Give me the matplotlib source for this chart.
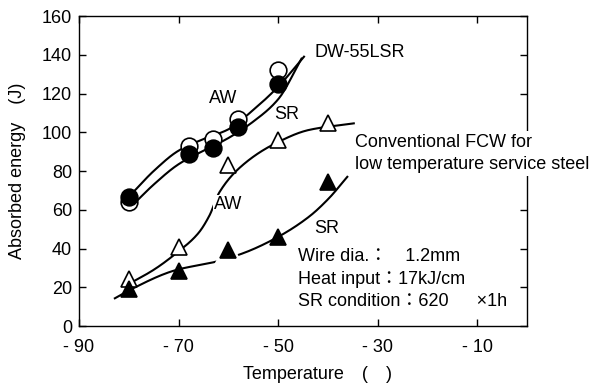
import numpy as np
import matplotlib
matplotlib.use('Agg')
from matplotlib import pyplot as plt

plt.rcParams['font.family'] = ['Liberation Sans', 'Noto Sans CJK JP', 'DejaVu Sans']
plt.rcParams['font.size'] = 13

# DW-55LSR, as welded (open circles) and SR (filled circles)
dw_temp = [-80, -68, -63, -58, -50]
dw_aw = [64, 93, 96.5, 107, 132]
dw_sr = [66.5, 89, 92, 102.5, 125]

# Conventional FCW, as welded (open triangles) and SR (filled triangles)
fcw_temp = [-80, -70, -60, -50, -40]
fcw_aw = [24.5, 41, 83, 96, 105]
fcw_sr = [19, 28.5, 39, 46, 74.5]

# hand drawn trend curves
dw_aw_curve_t = [-79.5, -75, -70, -65, -60, -55, -50, -44.8]
dw_aw_curve_e = [68, 80, 90.5, 96.5, 101.5, 111.5, 123.5, 139]
dw_sr_curve_t = [-79, -75, -70, -65, -60, -55, -50, -45.3]
dw_sr_curve_e = [63, 73, 83.5, 90.5, 97, 105.5, 117, 138]
fcw_aw_curve_t = [-79.8, -75, -70.5, -66, -63.8, -61.8, -57.1, -50.5, -43.8, -34.8]
fcw_aw_curve_e = [22, 29, 37.5, 48, 57, 69, 83.1, 94.3, 101.2, 104.6]
fcw_sr_curve_t = [-82.8, -79.8, -70.5, -62.5, -57.1, -50.5, -43.8, -39.8, -36.1]
fcw_sr_curve_e = [14.3, 18.6, 28.9, 33.2, 37.5, 45.3, 56.4, 65.9, 77]

x_ticks = [-90, -70, -50, -30, -10]
x_labels = ['- 90', '- 70', '- 50', '- 30', '- 10']
y_ticks = [0, 20, 40, 60, 80, 100, 120, 140, 160]

fig = plt.figure(figsize=(5.91, 3.83), dpi=100)
ax = fig.add_axes([0.1337, 0.1488, 0.758, 0.8094])

lw = 1.5


# monotone cubic (Fritsch-Carlson) through the read-off curve points
def smooth(ts, es, n=30):
    x = np.asarray(ts, float)
    y = np.asarray(es, float)
    h = np.diff(x)
    d = np.diff(y) / h
    m = np.zeros_like(y)
    m[0], m[-1] = d[0], d[-1]
    for k in range(1, len(x) - 1):
        if d[k - 1] * d[k] > 0:
            w1 = 2 * h[k] + h[k - 1]
            w2 = h[k] + 2 * h[k - 1]
            m[k] = (w1 + w2) / (w1 / d[k - 1] + w2 / d[k])
    xs, ys = [], []
    for k in range(len(x) - 1):
        s = np.linspace(0, 1, n)
        h00 = 2 * s**3 - 3 * s**2 + 1
        h10 = s**3 - 2 * s**2 + s
        h01 = -2 * s**3 + 3 * s**2
        h11 = s**3 - s**2
        xs.append(x[k] + s * h[k])
        ys.append(h00 * y[k] + h10 * h[k] * m[k] + h01 * y[k + 1] + h11 * h[k] * m[k + 1])
    return np.concatenate(xs), np.concatenate(ys)


for ts, es in [(dw_aw_curve_t, dw_aw_curve_e),
               (dw_sr_curve_t, dw_sr_curve_e),
               (fcw_aw_curve_t, fcw_aw_curve_e),
               (fcw_sr_curve_t, fcw_sr_curve_e)]:
    tt, ee = smooth(ts, es)
    ax.plot(tt, ee, color='k', lw=lw, zorder=2)

ms = 12
ax.plot(dw_temp, dw_aw, 'o', ms=ms, mfc='white', mec='k', mew=1.2, zorder=3)
ax.plot(dw_temp, dw_sr, 'o', ms=ms, mfc='k', mec='k', mew=1.2, zorder=4)
ax.plot(fcw_temp, fcw_aw, '^', ms=11, mfc='white', mec='k', mew=1.2, zorder=3)
# white halo behind the -60 SR point breaks the curve there
ax.plot(fcw_temp[2], fcw_sr[2], '^', ms=19, color='white', zorder=3.5)
ax.plot(fcw_temp, fcw_sr, '^', ms=11, mfc='k', mec='k', mew=1.2, zorder=4)

white = dict(facecolor='white', edgecolor='none', pad=1)
ax.text(-61, 117.5, 'AW', ha='center', va='center', zorder=5)
ax.text(-48.2, 109, 'SR', ha='center', va='center', zorder=5)
ax.text(-42.6, 141, 'DW-55LSR', ha='left', va='center', zorder=5)
ax.text(-60, 62.5, 'AW', ha='center', va='center', zorder=5, bbox=white)
ax.text(-40.2, 50.5, 'SR', ha='center', va='center', zorder=5)
ax.text(-34.6, 89, 'Conventional FCW for\nlow temperature service steel',
        ha='left', va='center', linespacing=1.4, zorder=6, clip_on=False,
        bbox=dict(facecolor='white', edgecolor='none', pad=2))
ax.text(-46.1, 24.2, 'Wire dia.：　1.2mm\nHeat input：17kJ/cm\nSR condition：620 　 ×1h',
        ha='left', va='center', linespacing=1.42, zorder=5)

ax.set_xlim(-90, 0)
ax.set_ylim(0, 160)
ax.set_xticks(x_ticks)
ax.set_xticklabels(x_labels)
ax.set_yticks(y_ticks)
ax.tick_params(direction='in', length=5, width=1, top=True, right=True,
               labelsize=13)
ax.tick_params(axis='x', pad=9)
ax.tick_params(axis='y', pad=5)
for s in ax.spines.values():
    s.set_linewidth(1)

ax.set_xlabel('Temperature　(　)', fontsize=13)
ax.xaxis.set_label_coords(0.532, -0.128)
ax.set_ylabel('Absorbed energy　(J)', fontsize=13)
ax.yaxis.set_label_coords(-0.118, 0.5)

fig.savefig('out.png', dpi=100)
